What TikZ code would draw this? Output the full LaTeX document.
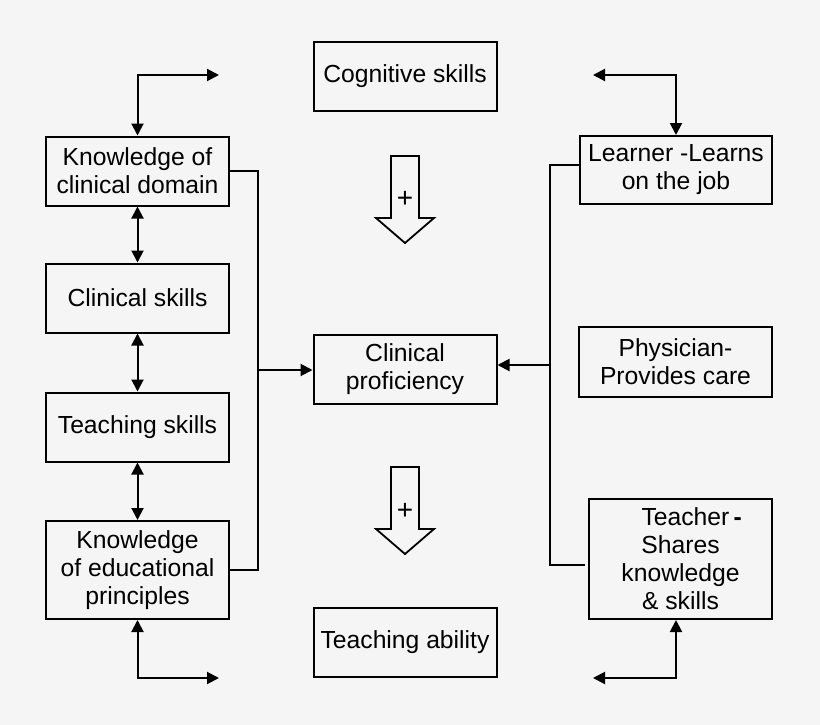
\documentclass[tikz,border=0pt]{standalone}
\usepackage{fontspec}
\setmainfont{Liberation Sans}
\usetikzlibrary{arrows.meta,calc}
\definecolor{bg}{RGB}{245,245,245}
\begin{document}
\begin{tikzpicture}[x=1pt,y=-1pt,
  box/.style={draw=black,line width=2pt,rectangle,inner sep=0pt,align=center,
    font=\fontsize{24.7}{28}\selectfont},
  conn/.style={line width=2pt},
  tip/.style={-{Triangle[length=12pt,width=12pt]}},
  dtip/.style={{Triangle[length=12pt,width=12pt]}-{Triangle[length=12pt,width=12pt]}},
  blockarrow/.style={draw=black,line width=1.8pt,fill=bg,line join=miter},
  plus/.style={font=\fontsize{28}{30}\selectfont}]
\fill[bg] (0,0) rectangle (820,725);
\useasboundingbox (0,0) rectangle (820,725);

% boxes
\node[box,minimum width=183pt,minimum height=69pt] (cog) at (405,76.5) {Cognitive skills};
\node[box,minimum width=183pt,minimum height=69pt] (kcd) at (137.5,171) {Knowledge of\\clinical domain};
\node[box,minimum width=183pt,minimum height=69pt] (cs) at (137.5,298) {Clinical skills};
\node[box,minimum width=183pt,minimum height=69pt] (ts) at (137.5,427) {Teaching skills};
\node[box,minimum width=183pt,minimum height=98pt] (kep) at (137.5,570) {Knowledge\\of educational\\principles};
\node[box,minimum width=183pt,minimum height=69pt] (cp) at (405,369.5) {Clinical\\proficiency};
\node[box,minimum width=183pt,minimum height=69pt] (ta) at (405,642.5) {Teaching ability};
\node[box,minimum width=192pt,minimum height=68pt] (lrn) at (676,170) {Learner -Learns\\on the job};
\node[box,minimum width=193pt,minimum height=70pt] (phy) at (675.5,362) {Physician-\\Provides care};
\node[box,minimum width=183pt,minimum height=120pt] (tch) at (680.5,559) {\hspace*{0.9em}Teacher\,\textbf{-}\\Shares\\knowledge\\\& skills};

% block arrows
\draw[blockarrow] (391,156) -- (419,156) -- (419,218) -- (434,218) -- (405,243) -- (376,218) -- (391,218) -- cycle;
\node[plus] (p1) at (405,199) {+};
\draw[blockarrow] (391,467) -- (419,467) -- (419,529) -- (434,529) -- (405,554) -- (376,529) -- (391,529) -- cycle;
\node[plus] (p2) at (405,511) {+};

% free-end coordinates
\coordinate (tlc) at (137.5,75);
\coordinate (tle) at (219,75);
\coordinate (blc) at (137.5,678);
\coordinate (ble) at (219,678);
\coordinate (trc) at (676,75);
\coordinate (tre) at (593,75);
\coordinate (brc) at (676,678);
\coordinate (bre) at (593,678);
\coordinate (lj) at (258,370);
\coordinate (rj) at (550,365);
\coordinate (rend) at (585,565);

% corner arrows
\draw[conn,dtip] (tle) -- (tlc) -- (kcd.north);
\draw[conn,dtip] (ble) -- (blc) -- (kep.south);
\draw[conn,dtip] (tre) -- (trc) -- (lrn.north);
\draw[conn,dtip] (bre) -- (brc) -- (tch.south -| brc);

% left column double arrows
\draw[conn,dtip] (kcd.south) -- (cs.north);
\draw[conn,dtip] (cs.south) -- (ts.north);
\draw[conn,dtip] (ts.south) -- (kep.north);

% brackets
\draw[conn] (kcd.east) -| (lj) |- (kep.east);
\draw[conn,tip] (lj) -- (lj -| cp.west);
\draw[conn] ($(lrn.west)+(0,-5)$) -| (rj) |- (rend);
\draw[conn,tip] (rj) -- (rj -| cp.east);
\end{tikzpicture}
\end{document}
